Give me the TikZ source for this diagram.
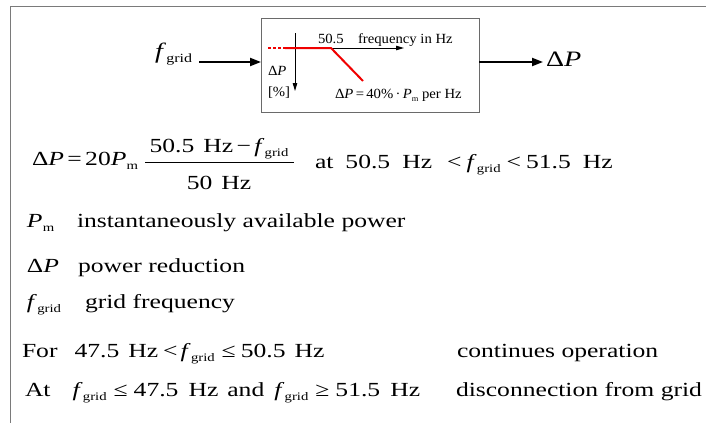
\documentclass[tikz,border=0pt]{standalone}
\usepackage{fontspec}
\setmainfont{Liberation Serif}[FakeStretch=1.28]
\newfontfamily\innerfont{Liberation Serif}[FakeStretch=1.05]
\usetikzlibrary{arrows.meta}
\newcommand\lowtext[2][11.5]{\raisebox{-0.22em}{\fontsize{#1}{#1}\selectfont #2}}
\newcommand\fgrid{\textit{f}\kern0.3pt\lowtext{grid}}
\newcommand\Pmm{\textit{P}\kern0.3pt\lowtext{m}}
\newcommand\dP{Δ\textit{P}}
\newcommand\gap[1]{\hspace{#1em}}
\definecolor{framegray}{HTML}{7A7A7A}
\definecolor{boxgray}{HTML}{6A6A6A}
\definecolor{curvered}{HTML}{F00000}
\tikzset{
  every node/.style={inner sep=0pt, outer sep=0pt, anchor=base west},
  big/.style={font=\fontsize{20}{24}\selectfont},
  bigger/.style={font=\fontsize{22}{26}\selectfont},
  small/.style={font=\innerfont\fontsize{14}{16}\selectfont},
  bigarrow/.style={line width=2pt, -{Triangle[length=11pt,width=8pt]}},
  axis/.style={line width=0.9pt, -{Triangle[length=8pt,width=4.5pt]}},
  redline/.style={line width=2pt, curvered},
  frameline/.style={line width=1.6pt, framegray}
}
\begin{document}
\begin{tikzpicture}[x=1pt,y=-1pt]
\useasboundingbox (0,0) rectangle (706,423);
% outer frame (top and left edges)
\coordinate (frTR) at (706,6.5);
\coordinate (frTL) at (10.5,6.5);
\coordinate (frBL) at (10.5,423);
\draw[frameline] (frTR) -- (frTL) -- (frBL);

% block
\node[draw=boxgray, line width=1pt, minimum width=218pt, minimum height=94pt, anchor=center] (box) at (370,65) {};
\node[bigger] (fin) at (155,58) {\textit{f}\kern0.3pt\lowtext[12.5]{grid}};
\coordinate (instart) at (199,62);
\draw[bigarrow] (instart) -- ([yshift=3pt]box.west);
\node[bigger] (dPout) at (546,66) {\dP};
\coordinate (outend) at (543,62);
\draw[bigarrow] ([yshift=3pt]box.east) -- (outend);

% characteristic inside block
\coordinate (vtop) at (295,33);
\coordinate (vbot) at (295,91);
\coordinate (hstart) at (268,48);
\coordinate (dashend) at (285,48);
\coordinate (knee) at (331,48);
\coordinate (htip) at (404,48);
\coordinate (slopeend) at (363,81);
\draw[axis] (vtop) -- (vbot);
\draw[axis] (knee) -- (htip);
\draw[redline, dash pattern=on 3pt off 2pt] (hstart) -- (dashend);
\draw[redline] (dashend) -- (knee) -- (slopeend);
\node[small] (t505) at (318,43) {50.5};
\node[small] (tfreq) at (358,43) {frequency in Hz};
\node[small] (tdp) at (268,75) {\dP};
\node[small] (tpct) at (268,96) {[\%]};
\node[small] (tslope) at (335,98) {\dP\,=\,40\%\,·\,\textit{P}\lowtext[8]{m} per Hz};

% formula
\node[big] (eqL) at (32,165) {\dP\,=\,20\Pmm};
\node[big, anchor=base] (eqNum) at (219,152) {50.5\gap{0.45}Hz\,−\,\fgrid};
\node[big, anchor=base] (eqDen) at (219,189) {50\gap{0.45}Hz};
\coordinate (barL) at (145,162);
\coordinate (barR) at (294,162);
\draw[line width=1pt] (barL) -- (barR);
\node[big] (eqR) at (315,168) {at\gap{0.6}50.5\gap{0.6}Hz\gap{0.75}<\gap{0.25}\fgrid\gap{0.3}<\gap{0.25}51.5\gap{0.6}Hz};

% legend
\node[big] (lpm) at (27,227.5) {\Pmm};
\node[big] (lpmtxt) at (77,227.5) {instantaneously available power};
\node[big] (ldp) at (27,272.5) {\dP};
\node[big] (ldptxt) at (78,272.5) {power reduction};
\node[big] (lfg) at (27,308) {\fgrid};
\node[big] (lfgtxt) at (85,308) {grid frequency};

% conditions
\node[big] (lfor) at (22,357) {For\gap{0.85}47.5\gap{0.45}Hz\gap{0.25}<\gap{0.15}\fgrid\gap{0.35}≤\gap{0.25}50.5\gap{0.45}Hz};
\node[big] (lforr) at (457,357) {continues operation};
\node[big] (lat) at (25,396) {At\gap{1.1}\fgrid\gap{0.35}≤\gap{0.3}47.5\gap{0.5}Hz\gap{0.45}and\gap{0.5}\fgrid\gap{0.35}≥\gap{0.3}51.5\gap{0.5}Hz};
\node[big] (latr) at (456,396) {disconnection from grid};
\end{tikzpicture}
\end{document}
